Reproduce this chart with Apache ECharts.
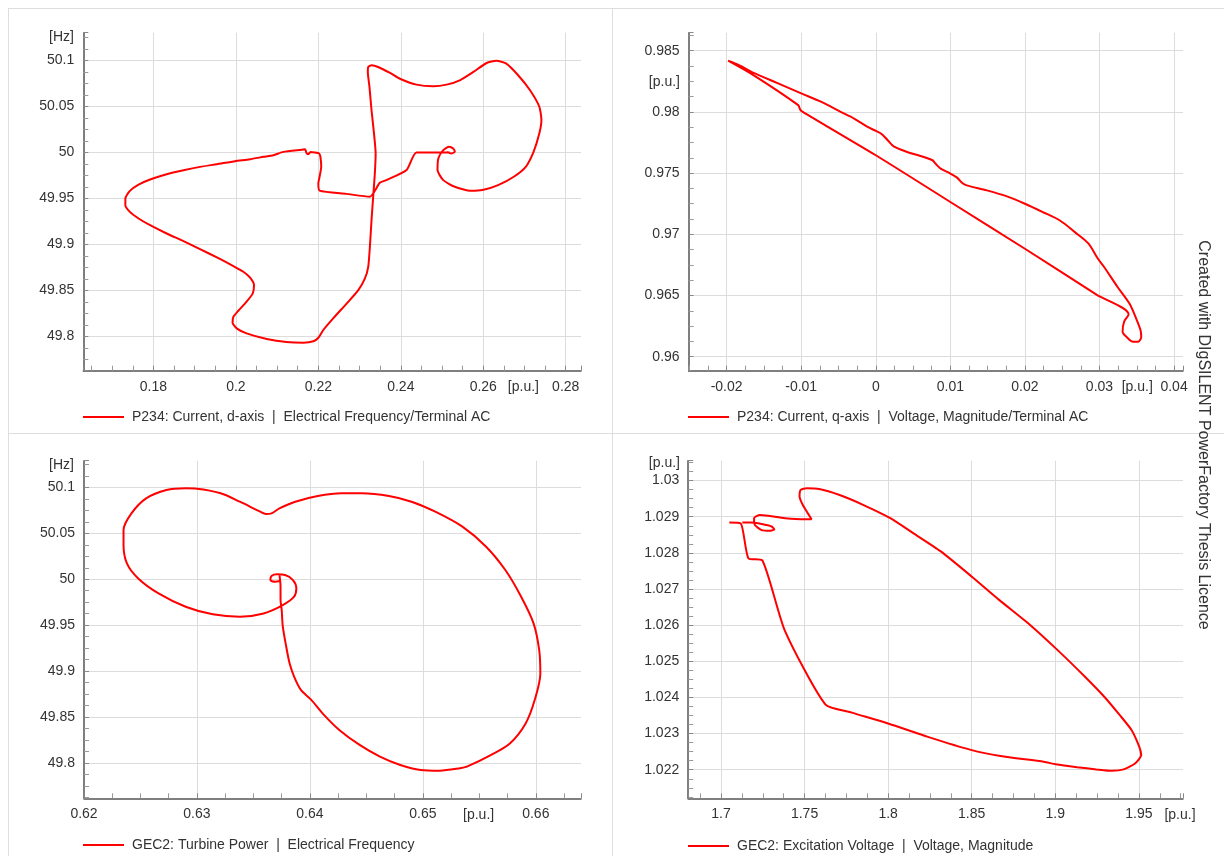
<!DOCTYPE html>
<html><head><meta charset="utf-8">
<script src="https://cdn.jsdelivr.net/npm/echarts@6.0.0/dist/echarts.min.js"></script>
<style>html,body{margin:0;padding:0;background:#fff;}#c{width:1224px;height:856px;}</style>
</head><body><div id="c"></div>
<script>
const FONT = '"Liberation Sans", Arial, sans-serif';

// ---------- Panel 1 ----------
const p1Name = 'P234: Current, d-axis  |  Electrical Frequency/Terminal AC';
const p1X = [0.2519,0.2438,0.2414,0.2365,0.2349,0.2325,0.2268,0.2203,0.2200,0.2203,0.2207,0.2205,0.2202,0.2191,0.2181,0.2175,0.2171,0.2168,0.2160,0.2115,0.2091,0.2067,0.2034,0.1998,0.1954,0.1913,0.1873,0.1832,0.1792,0.1764,0.1743,0.1732,0.1732,0.1743,0.1764,0.1792,0.1832,0.1873,0.1913,0.1954,0.1994,0.2018,0.2034,0.2044,0.2041,0.2026,0.2006,0.1994,0.1992,0.2002,0.2026,0.2075,0.2123,0.2164,0.2188,0.2200,0.2212,0.2236,0.2269,0.2297,0.2313,0.2321,0.2325,0.2329,0.2333,0.2337,0.2339,0.2335,0.2329,0.2324,0.2320,0.2321,0.2329,0.2345,0.2374,0.2398,0.2438,0.2479,0.2511,0.2543,0.2576,0.2608,0.2632,0.2655,0.2684,0.2713,0.2736,0.2741,0.2736,0.2722,0.2703,0.2674,0.2636,0.2598,0.2570,0.2531,0.2503,0.2489,0.2491,0.2503,0.2517,0.2527,0.2531,0.2522,0.2512];
const p1Y = [50.0,50.0,49.981,49.970,49.967,49.952,49.955,49.9585,49.9664,49.9736,49.9845,49.9953,49.9989,50.0,50.0004,49.998,49.9996,50.0035,50.003,50.0006,49.997,49.9952,49.9926,49.9905,49.9872,49.9843,49.9807,49.9764,49.9706,49.9651,49.9583,49.950,49.9427,49.9355,49.9283,49.921,49.912,49.9037,49.895,49.886,49.8766,49.8704,49.8643,49.856,49.8469,49.8379,49.8281,49.8216,49.8151,49.809,49.8035,49.7974,49.7941,49.7934,49.7949,49.7988,49.8072,49.8198,49.8361,49.8505,49.8632,49.8758,49.8975,49.9265,49.9518,49.9771,49.9988,50.0205,50.0458,50.0711,50.0873,50.0928,50.0946,50.0928,50.0863,50.0800,50.0736,50.0718,50.0736,50.0783,50.0874,50.0971,50.0995,50.0967,50.0841,50.0678,50.0496,50.0351,50.0207,50.0007,49.9844,49.9736,49.9645,49.9591,49.9583,49.9627,49.9699,49.9808,49.9935,50.0025,50.0062,50.0043,50.0007,49.9989,50.0007];
const p1XRange = [0.163, 0.2837, 0.02];
const p1YRange = [49.763, 50.130, 0.05];

// ---------- Panel 2 ----------
const p2Name = 'P234: Current, q-axis  |  Voltage, Magnitude/Terminal AC';
const p2X = [-0.0198,-0.0162,-0.0104,-0.0102,-0.0100,0.0,0.01,0.02,0.0296,0.0339,0.0333,0.0331,0.0337,0.0345,0.0352,0.0356,0.0355,0.0350,0.0340,0.0324,0.0306,0.0298,0.0285,0.0267,0.0247,0.0224,0.0200,0.0176,0.0149,0.0122,0.0116,0.0109,0.0100,0.0087,0.0080,0.0076,0.0060,0.0042,0.0024,0.0016,0.0007,0.0,-0.0011,-0.0029,-0.0047,-0.0073,-0.0100,-0.0131,-0.0162,-0.0184,-0.0198];
const p2Y = [0.98418,0.98292,0.98055,0.98028,0.98009,0.97646,0.97264,0.96882,0.96508,0.96346,0.96286,0.96204,0.96158,0.96123,0.96123,0.96163,0.96218,0.96300,0.96436,0.96572,0.96735,0.96800,0.96926,0.97018,0.97113,0.97182,0.97250,0.97310,0.97359,0.97400,0.97419,0.97463,0.97496,0.97537,0.97578,0.97605,0.97640,0.97673,0.97719,0.97769,0.97823,0.97845,0.97878,0.97946,0.98001,0.98082,0.98151,0.98233,0.98314,0.98383,0.98418];
const p2XRange = [-0.0251, 0.0412, 0.01];
const p2YRange = [0.95886, 0.98647, 0.005];

// ---------- Panel 3 ----------
const p3Name = 'GEC2: Turbine Power  |  Electrical Frequency';
const p3X = [0.6373,0.6374,0.6374,0.6375,0.6376,0.6379,0.6382,0.6386,0.6392,0.6401,0.6412,0.6426,0.6444,0.6462,0.6480,0.6498,0.6515,0.6533,0.6539,0.6560,0.6577,0.6591,0.6599,0.6604,0.6603,0.6598,0.6587,0.6573,0.6556,0.6535,0.6511,0.6490,0.6470,0.6446,0.6428,0.6407,0.6387,0.6373,0.6366,0.6361,0.6356,0.6338,0.6321,0.6300,0.6290,0.6273,0.6255,0.6242,0.6235,0.6235,0.6238,0.6248,0.6266,0.6290,0.6314,0.6338,0.6359,0.6376,0.6386,0.6388,0.6385,0.6378,0.6371,0.6366,0.6365,0.6369,0.6374];
const p3Y = [50.0049,49.9922,49.9776,49.9667,49.9486,49.9268,49.9086,49.8941,49.8796,49.8690,49.8530,49.836,49.8197,49.807,49.7979,49.7925,49.7917,49.7943,49.7960,49.8086,49.8213,49.8431,49.8685,49.8975,49.9229,49.952,49.981,50.010,50.0354,50.0572,50.0735,50.0844,50.0906,50.0935,50.0935,50.0906,50.0844,50.0771,50.0717,50.071,50.0735,50.0844,50.0935,50.0985,50.0989,50.0971,50.088,50.0717,50.0536,50.0372,50.0173,50.0009,49.9846,49.9701,49.9618,49.9592,49.9628,49.9719,49.981,49.9901,49.9991,50.0046,50.0053,50.0035,49.9991,49.9973,49.9984];
const p3XRange = [0.62, 0.6640, 0.01];
const p3YRange = [49.7616, 50.129, 0.05];

// ---------- Panel 4 ----------
const p4Name = 'GEC2: Excitation Voltage  |  Voltage, Magnitude';
const p4X = [1.7050,1.7119,1.7164,1.7248,1.7382,1.7624,1.7782,1.8000,1.8238,1.8495,1.8673,1.8931,1.9002,1.9130,1.9246,1.9339,1.9409,1.9479,1.9514,1.9502,1.9456,1.9386,1.9293,1.9176,1.9014,1.8851,1.8664,1.8501,1.8315,1.8152,1.8013,1.7850,1.7710,1.7594,1.7512,1.7477,1.7470,1.7489,1.7519,1.7542,1.7500,1.7384,1.7291,1.7233,1.7198,1.7203,1.7244,1.7291,1.7319,1.7303,1.7244,1.7175,1.7128];
const p4Y = [1.02884,1.02881,1.02785,1.02779,1.02585,1.02381,1.02358,1.02328,1.02291,1.02255,1.02238,1.02222,1.02215,1.02207,1.02201,1.02197,1.02201,1.02218,1.02241,1.02264,1.02310,1.02351,1.02402,1.02458,1.02531,1.02600,1.02670,1.02734,1.02804,1.02854,1.02896,1.02933,1.02960,1.02976,1.02979,1.02974,1.02956,1.02933,1.02910,1.02893,1.02893,1.02896,1.02902,1.02905,1.02896,1.02877,1.02863,1.02861,1.02865,1.02873,1.02880,1.02884,1.02884];
const p4XRange = [1.6804, 1.9764, 0.05];
const p4YRange = [1.02121, 1.03055, 0.001];

const names = [p1Name, p2Name, p3Name, p4Name];
const xs = [p1X, p2X, p3X, p4X];
const ys = [p1Y, p2Y, p3Y, p4Y];
const xRanges = [p1XRange, p2XRange, p3XRange, p4XRange];
const yRanges = [p1YRange, p2YRange, p3YRange, p4YRange];

// layout (pixels)
const grids = [
  {left: 83.3, top: 32.7, width: 497.7, height: 338},
  {left: 688.6, top: 32.7, width: 494.4, height: 338},
  {left: 84, top: 460.7, width: 497, height: 337.6},
  {left: 688.2, top: 460.7, width: 494.8, height: 337.6}
];
const legendPos = [[83, 410], [688, 410], [83, 838], [688, 839]];
const smoothness = [0.2, 0.3, 0.3, 0.2];

function isTick(v, step) {
  const r = v / step;
  return Math.abs(r - Math.round(r)) < 1e-6;
}
function axis(i, range) {
  const [min, max, step] = range;
  return {
    type: 'value', gridIndex: i, min: min, max: max,
    minInterval: step, maxInterval: step,
    axisLine: {show: true, onZero: false, lineStyle: {color: '#555', width: 1.5}},
    axisTick: {show: true, inside: true, length: 5, lineStyle: {color: '#888'}},
    minorTick: {show: true, splitNumber: 4, length: 5, lineStyle: {color: '#999'}},
    splitLine: {show: true, showMinLine: false, showMaxLine: false, lineStyle: {color: '#dcdcdc', width: 1}},
    axisLabel: {
      show: true, margin: 9, color: '#333', fontSize: 14, fontFamily: FONT,
      showMinLabel: isTick(min, step), showMaxLabel: isTick(max, step), hideOverlap: false
    }
  };
}

const option = {
  animation: false,
  backgroundColor: '#fff',
  textStyle: {fontFamily: FONT},
  grid: grids.map(g => Object.assign({containLabel: false}, g)),
  xAxis: xRanges.map((r, i) => axis(i, r)),
  yAxis: yRanges.map((r, i) => axis(i, r)),
  legend: names.map((n, i) => ({
    left: legendPos[i][0], top: legendPos[i][1], padding: 0,
    icon: 'rect', itemWidth: 41, itemHeight: 2, selectedMode: false,
    data: [n],
    textStyle: {fontFamily: FONT, fontSize: 14, color: '#333', padding: [0, 0, 0, 3]}
  })),
  series: names.map((n, i) => ({
    name: n, type: 'line', xAxisIndex: i, yAxisIndex: i,
    data: xs[i].map((x, k) => [x, ys[i][k]]),
    showSymbol: false, symbol: 'none', smooth: smoothness[i],
    lineStyle: {color: '#ff0000', width: 2},
    itemStyle: {color: '#ff0000'}
  })),
  graphic: {elements: [
    {type: 'line', shape: {x1: 8, y1: 8.5, x2: 1224, y2: 8.5}, style: {stroke: '#dedede', lineWidth: 1}},
    {type: 'line', shape: {x1: 8.5, y1: 8, x2: 8.5, y2: 856}, style: {stroke: '#dedede', lineWidth: 1}},
    {type: 'line', shape: {x1: 8, y1: 433.5, x2: 1224, y2: 433.5}, style: {stroke: '#dedede', lineWidth: 1}},
    {type: 'line', shape: {x1: 612.5, y1: 8, x2: 612.5, y2: 856}, style: {stroke: '#dedede', lineWidth: 1}},
    {type: 'text', x: 74, y: 36.7, style: {text: '[Hz]', align: 'right', verticalAlign: 'middle', font: '14px ' + FONT, fill: '#333'}},
    {type: 'text', x: 523.4, y: 387, style: {text: '[p.u.]', align: 'center', verticalAlign: 'middle', font: '14px ' + FONT, fill: '#333'}},
    {type: 'text', x: 680, y: 81.7, style: {text: '[p.u.]', align: 'right', verticalAlign: 'middle', font: '14px ' + FONT, fill: '#333'}},
    {type: 'text', x: 1137.2, y: 387, style: {text: '[p.u.]', align: 'center', verticalAlign: 'middle', font: '14px ' + FONT, fill: '#333'}},
    {type: 'text', x: 74, y: 465, style: {text: '[Hz]', align: 'right', verticalAlign: 'middle', font: '14px ' + FONT, fill: '#333'}},
    {type: 'text', x: 478.6, y: 815, style: {text: '[p.u.]', align: 'center', verticalAlign: 'middle', font: '14px ' + FONT, fill: '#333'}},
    {type: 'text', x: 680, y: 462.7, style: {text: '[p.u.]', align: 'right', verticalAlign: 'middle', font: '14px ' + FONT, fill: '#333'}},
    {type: 'text', x: 1180, y: 815, style: {text: '[p.u.]', align: 'center', verticalAlign: 'middle', font: '14px ' + FONT, fill: '#333'}},
    {type: 'text', x: 1203, y: 435, rotation: -Math.PI / 2, style: {text: 'Created with DIgSILENT PowerFactory Thesis Licence', align: 'center', verticalAlign: 'middle', font: '16px ' + FONT, fill: '#333'}}
  ]}
};

const chart = echarts.init(document.getElementById('c'), null, {renderer: 'canvas'});
chart.setOption(option);
</script>
</body></html>
